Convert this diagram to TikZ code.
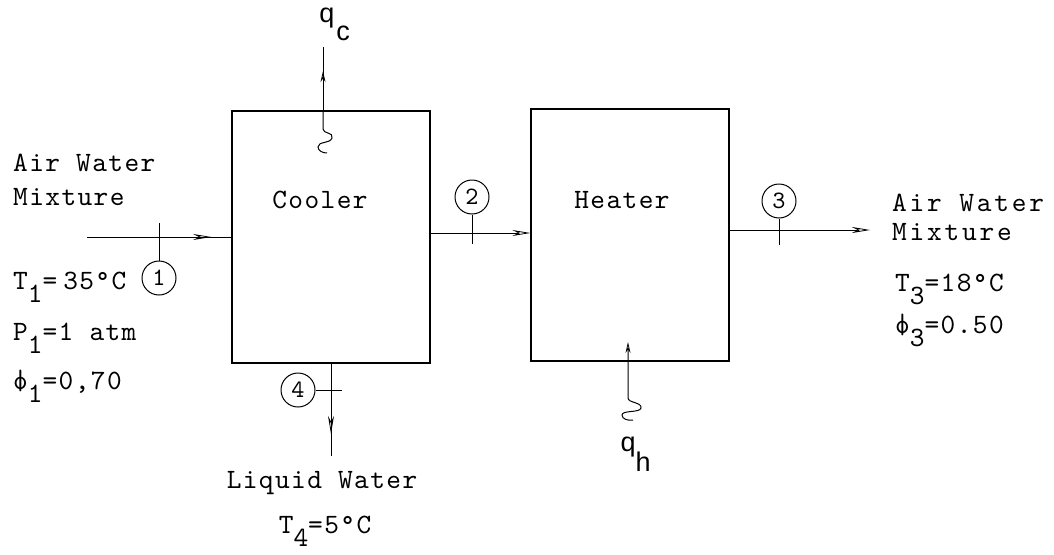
\documentclass[tikz,border=0pt]{standalone}
\usepackage{fontspec}
\newfontfamily\twa{lmmono10-regular.otf}[LetterSpace=5]
\newfontfamily\twb{lmmono10-regular.otf}[LetterSpace=10]
\newfontfamily\twc{lmmono10-regular.otf}
\newfontfamily\handfont{Liberation Sans}
\usetikzlibrary{arrows.meta,decorations.markings}
\newcommand{\sbs}[1]{\raisebox{-13pt}{#1}}
\newcommand{\phis}{{\ooalign{o\cr|}}}
\tikzset{
  hd/.tip={Stealth[length=18pt,width=6pt,open,line width=0.8pt]},
  qhd/.tip={Stealth[length=11pt,width=5pt,open,line width=0.8pt]}
}
\begin{document}
\begin{tikzpicture}[x=1pt,y=-1pt,
  every node/.style={font=\twa\fontsize{28}{32}\selectfont, inner sep=0pt},
  lbl/.style={anchor=base west},
  wide/.style={font=\twb\fontsize{28}{32}\selectfont},
  unitbox/.style={draw, line width=1.3pt, minimum width=198pt, minimum height=252pt},
  num/.style={draw, circle, line width=1pt, minimum size=34pt, font=\twc\fontsize{25}{25}\selectfont},
  flow/.style={line width=1pt},
  midarrow/.style={postaction={decorate}, decoration={markings, mark=at position #1 with {\arrow{hd}}}},
  qmid/.style={postaction={decorate}, decoration={markings, mark=at position #1 with {\arrow{qhd}}}},
  qfont/.style={font=\handfont\fontsize{27}{27}\selectfont}]
\useasboundingbox (0,0) rectangle (1054,554);

% units
\node[unitbox] (cooler) at (331,237) {};
\node[unitbox] (heater) at (630,235) {};
\node (coolertxt) at (320,200) {Cooler};
\node (heatertxt) at (622,200) {Heater};

% station circles
\node[num] (n1) at (159,278) {1};
\node[num] (n2) at (472,197) {2};
\node[num] (n3) at (779,201) {3};
\node[num] (n4) at (298,390) {4};

% coordinates
\coordinate (in1) at (87,237);
\coordinate (t1) at (159,237);
\coordinate (t1a) at (159,223);
\coordinate (t2) at (472,233);
\coordinate (t2a) at (472,244);
\coordinate (t3) at (779,230);
\coordinate (t3a) at (779,245);
\coordinate (out3) at (870,230);
\coordinate (out4) at (331,456);
\coordinate (t4a) at (342,390);
\coordinate (qctop) at (323,47);
\coordinate (qhtip) at (628,342);

% streams
\draw[flow, midarrow=0.86] (in1) -- (cooler.west |- t1);
\draw[flow] (n1) -- (t1a);
\draw[flow, -{hd}] (cooler.east |- t2) -- (heater.west |- t2);
\draw[flow] (n2) -- (t2a);
\draw[flow, -{hd}] (heater.east |- t3) -- (out3);
\draw[flow] (n3) -- (t3a);
\draw[flow, midarrow=0.76] (cooler.south) -- (out4);
\draw[flow] (n4) -- (t4a);

% heat flows
\draw[flow, qmid=0.62] (qctop |- cooler.north) -- (qctop);
\draw[flow] (qctop |- cooler.north) -- (323,129)
  .. controls (323,134) and (334,132) .. (332,138)
  .. controls (330,144) and (318,141) .. (318,147)
  .. controls (318,151) and (323,153) .. (327,153);
\draw[flow, {qhd}-] (qhtip) -- (628,398)
  .. controls (628,403) and (642,402) .. (641,408)
  .. controls (640,413) and (622,410) .. (622,415)
  .. controls (622,419) and (628,421) .. (633,420);
\node[qfont] (qc) at (327,18) {q};
\node[qfont] (qcs) at (343,33) {c};
\node[qfont] (qh) at (628,447) {q};
\node[qfont] (qhs) at (643,462) {h};

% left labels
\node[lbl] (aw1) at (13,171) {Air Water};
\node[lbl] (mx1) at (13,205) {Mixture};
\node[lbl] (T1) at (13,289) {T\sbs{1}=\hspace{6pt}35°C};
\node[lbl] (P1) at (13,340) {P\sbs{1}=1 atm};
\node[lbl] (F1) at (13,389) {\phis\sbs{1}=0,70};

% right labels
\node[lbl, wide] (aw3) at (892,211) {Air Water};
\node[lbl, wide] (mx3) at (892,240) {Mixture};
\node[lbl] (T3) at (895,291) {T\sbs{3}=18°C};
\node[lbl] (F3) at (895,333) {\phis\sbs{3}=0.50};

% bottom labels
\node[anchor=base] (lw) at (322,488) {Liquid Water};
\node[anchor=base] (T4) at (325,533) {T\sbs{4}=5°C};
\end{tikzpicture}
\end{document}
